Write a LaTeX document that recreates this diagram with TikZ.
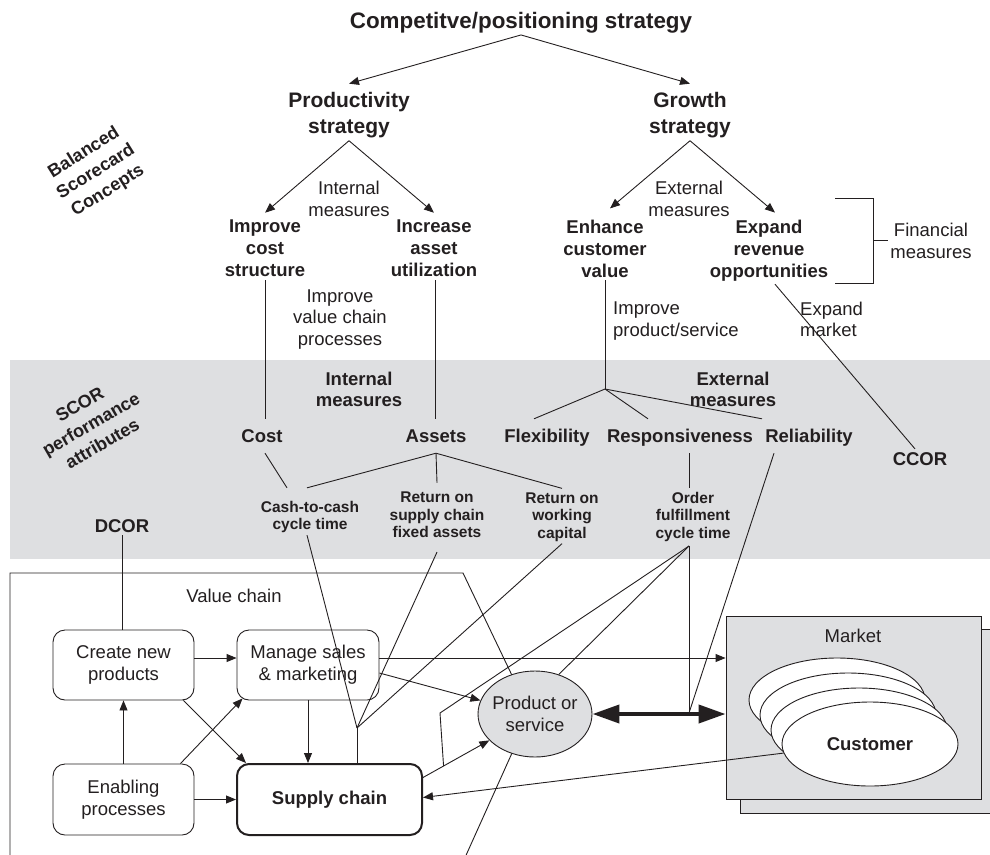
\documentclass[tikz,border=0pt]{standalone}
\usepackage{fontspec}
\setmainfont{Liberation Sans}
\usetikzlibrary{arrows.meta,shapes.geometric,calc}
\definecolor{ink}{RGB}{35,31,32}
\definecolor{bandgray}{RGB}{222,223,225}

\begin{document}
\begin{tikzpicture}[x=1pt,y=-1pt,
  every node/.style={text=ink, inner sep=2pt},
  line/.style={draw=ink, line width=0.9pt},
  arr/.style={line, -{Triangle[length=10pt,width=8pt]}},
  dbl/.style={draw=ink, line width=4pt, {Triangle[length=27pt,width=18pt]}-{Triangle[length=27pt,width=18pt]}},
  toptitle/.style={font=\fontsize{22.4}{26}\selectfont\bfseries},
  head/.style={font=\fontsize{21}{26}\selectfont\bfseries, align=center, inner sep=3pt},
  goal/.style={font=\fontsize{18.5}{22}\selectfont\bfseries, align=center, inner sep=3pt},
  note/.style={font=\fontsize{18.5}{21.5}\selectfont, align=center},
  bandhead/.style={font=\fontsize{18.5}{21}\selectfont\bfseries, align=center},
  attr/.style={font=\fontsize{18.5}{21}\selectfont\bfseries, anchor=base, text height=14pt, text depth=2pt, inner ysep=9pt, inner xsep=2pt},
  metric/.style={font=\fontsize{15.5}{17.5}\selectfont\bfseries, align=center},
  model/.style={font=\fontsize{18.5}{21}\selectfont\bfseries, anchor=base, inner sep=3pt},
  slanted/.style={font=\fontsize{18}{22.5}\selectfont\bfseries, align=center},
  proc/.style={draw=ink, line width=0.9pt, rounded corners=12pt, align=center, font=\fontsize{18.5}{22}\selectfont},
  cust/.style={ellipse, draw=ink, line width=0.9pt, fill=white, minimum width=176pt, minimum height=84pt, inner sep=0pt},
  panel/.style={draw=ink, line width=0.9pt, fill=bandgray, inner sep=0pt}
]
\useasboundingbox (0,0) rectangle (990,854);

% SCOR band
\fill[bandgray] (10,360) rectangle (990,559);

% value chain frame, pointing at the product
\draw[line] (10,862) -- (10,573) -- (463,573) -- (530,713) -- (463,862);

% ---------- strategy tree ----------
\node[toptitle, anchor=base] (title) at (521,28) {Competitve/positioning strategy};
\node[head] (prod) at (349,114.7) {Productivity\\strategy};
\node[head] (growth) at (690,114.7) {Growth\\strategy};

\node[note] (intm) at (349,199) {Internal\\measures};
\node[note] (extm) at (689,199) {External\\measures};

\node[goal] (impcost) at (265,248.4) {Improve\\cost\\structure};
\node[goal] (incr) at (434,248.4) {Increase\\asset\\utilization};
\node[goal] (enh) at (605,248.4) {Enhance\\customer\\value};
\node[goal] (expd) at (769,250.4) {Expand\\revenue\\opportunities};

\node[note] (fin) at (931,241) {Financial\\measures};
\coordinate (brk) at (873,240);

\node[note] (ivc) at (340,319.3) {Improve\\value chain\\processes};
\node[note, align=left, anchor=west] (ips) at (611,321) {Improve\\product/service};
\node[note, align=left, anchor=west] (exm) at (798,319.5) {Expand\\market};

% side captions
\node[slanted, rotate=32] (bsc) at (96,172) {Balanced\\Scorecard\\Concepts};
\node[slanted, rotate=30] (scor) at (91,424) {SCOR\\performance\\attributes};

% ---------- SCOR attributes ----------
\node[bandhead] (bint) at (359,389) {Internal\\measures};
\node[bandhead] (bext) at (733,389) {External\\measures};

\node[attr] (cost) at (262,442) {Cost};
\node[attr] (assets) at (436,442) {Assets};
\node[attr] (flex) at (547,442) {Flexibility};
\node[attr] (resp) at (680,442) {Responsiveness};
\node[attr] (rel) at (809,442) {Reliability};

\node[metric] (cash) at (310,517) {Cash-to-cash\\cycle time};
\node[metric] (retfix) at (437,515) {Return on\\supply chain\\fixed assets};
\node[metric] (retwc) at (562,517) {Return on\\working\\capital};
\node[metric] (order) at (693,516.7) {Order\\fulfillment\\cycle time};

\node[model] (dcor) at (122,532) {DCOR};
\node[model] (ccor) at (920,465) {CCOR};

% ---------- value chain ----------
\node[font=\fontsize{18.5}{22}\selectfont, anchor=base] (vclabel) at (234,602) {Value chain};
\node[proc, minimum width=141pt, minimum height=70pt] (create) at (123.5,665) {Create new\\products};
\node[proc, minimum width=142pt, minimum height=70pt] (manage) at (308,665) {Manage sales\\\& marketing};
\node[proc, minimum width=141pt, minimum height=71pt] (enabling) at (123.5,799.5) {Enabling\\processes};
\node[proc, minimum width=185pt, minimum height=71pt, line width=2pt, font=\fontsize{18.5}{22}\selectfont\bfseries] (supply) at (329.5,799.5) {Supply chain};

\node[ellipse, draw=ink, line width=0.9pt, fill=bandgray, minimum width=114pt, minimum height=86pt, inner sep=0pt,
      label={[note]center:{Product or\\service}}] (psv) at (535,714) {};

% ---------- market ----------
\node[panel, minimum width=260pt, minimum height=184pt] (marketback) at (870,721) {};
\node[panel, minimum width=255pt, minimum height=183pt] (market) at (853.5,707.5) {};
\node[font=\fontsize{18.5}{22}\selectfont, anchor=base] (mkt) at (853,642) {Market};
\node[cust] (c1) at (837,700) {};
\node[cust] (c2) at (848,715) {};
\node[cust] (c3) at (859,730) {};
\node[cust, font=\fontsize{18.5}{22}\selectfont\bfseries] (cust) at (870,744) {Customer};

% ---------- strategy connectors ----------
\draw[arr] (title.south) -- ([yshift=5pt]prod.north);
\draw[arr] (title.south) -- ([yshift=5pt]growth.north);
\draw[arr] (prod.south) -- ([yshift=4pt]impcost.north);
\draw[arr] (prod.south) -- ([yshift=4pt]incr.north);
\draw[arr] (growth.south) -- ([xshift=5pt,yshift=8pt]enh.north);
\draw[arr] (growth.south) -- ([xshift=6pt,yshift=4pt]expd.north);

\draw[line] (835,198) -- (873,198) -- (873,283) -- (835,283);
\draw[line] (brk) -- (brk -| fin.west);

\draw[line] (impcost.south) -- (impcost.south |- cost.north);
\draw[line] ([xshift=1pt]incr.south) -- ([xshift=1pt]incr.south |- assets.north);

\coordinate (extj) at (605,389);
\draw[line] (enh.south) -- (extj);
\draw[line] (extj) -- ([xshift=-13pt]flex.north);
\draw[line] (extj) -- ([xshift=-32pt]resp.north);
\draw[line] (extj) -- ([xshift=-47pt]rel.north);

\draw[line] ([xshift=6pt]expd.south) -- ([xshift=-5pt]ccor.north);

% ---------- attribute to metric connectors ----------
\draw[line] ([xshift=3pt]cost.south) -- ([xshift=-23pt,yshift=11pt]cash.north);
\draw[line] (assets.south) -- ([xshift=-3pt,yshift=11pt]cash.north);
\draw[line] (assets.south) -- ([yshift=7pt]retfix.north);
\draw[line] (assets.south) -- ([yshift=2pt]retwc.north);
\draw[line] ([xshift=9pt]resp.south) -- ([xshift=9pt]resp.south |- 0,488);

% ---------- metric to value chain connectors ----------
\coordinate (sj) at (357,728);
\draw[line] ([xshift=-3pt]cash.south) -- (sj);
\draw[line] ([yshift=-12pt]retfix.south) -- (sj);
\draw[line] (retwc.south) -- (sj);
\draw[line] (sj) -- (sj |- supply.north);

\coordinate (scout) at ([yshift=22pt]supply.east);
\coordinate (oj) at (689,546);
\coordinate (dj) at (689,713);
\coordinate (bend) at (440,713);
\draw[line] (oj) -- (dj);
\draw[line] (oj) -- (psv.59);
\draw[line] (oj) -- (bend) -- ($(scout)!0.31!(psv.210)$);
\draw[line] ([xshift=-35pt]rel.south) -- (dj);

\draw[line] (dcor.south) -- (dcor.south |- create.north);

% ---------- value chain flows ----------
\draw[arr] ([yshift=7pt]create.east) -- ([yshift=7pt]manage.west);
\draw[arr] ([yshift=7pt]manage.east) -- ([yshift=7pt]manage.east -| market.west);
\draw[arr] (enabling.north) -- (create.south);
\draw[arr] (enabling.east) -- (supply.west);
\draw[arr] ([xshift=-11pt]create.south east) -- ([xshift=10pt]supply.north west);
\draw[arr] ([xshift=-14pt]enabling.north east) -- ([xshift=6pt,yshift=2pt]manage.south west);
\draw[arr] (manage.south) -- (manage.south |- supply.north);
\draw[arr] ([yshift=-8pt]manage.east) -- (psv.166);
\draw[arr] (scout) -- (psv.210);
\draw[arr] (cust.186) -- ([yshift=2pt]supply.east);
\draw[dbl] (psv.east) -- (psv.east -| market.west);
\end{tikzpicture}
\end{document}
